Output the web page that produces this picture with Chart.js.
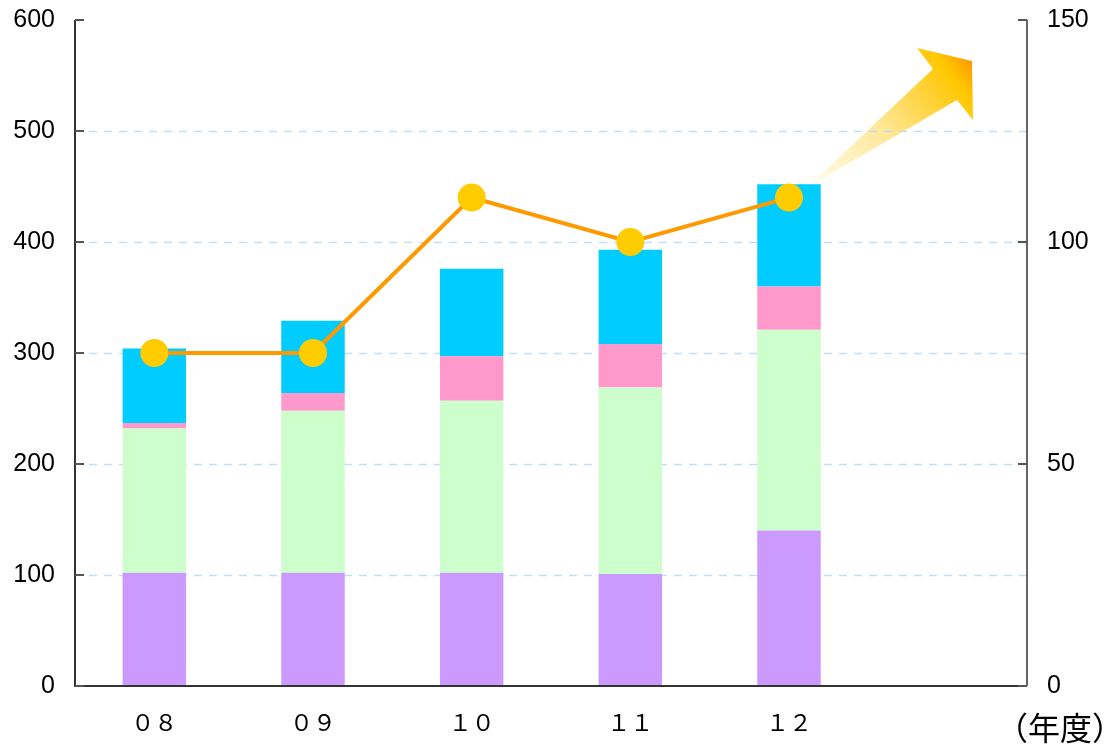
<!DOCTYPE html>
<html><head><meta charset="utf-8">
<script src="https://cdn.jsdelivr.net/npm/chart.js@4.4.1/dist/chart.umd.min.js"></script>
<style>html,body{margin:0;padding:0;background:#fff;}#wrap{width:1109px;height:747px;position:relative;}</style>
</head><body><div id="wrap"><canvas id="c" width="1109" height="747"></canvas></div>
<script>
const categories = ['０８', '０９', '１０', '１１', '１２', ''];
const purpleValues = [102, 102, 102, 101, 140, null];
const greenValues = [130, 146, 155, 168, 181, null];
const pinkValues = [5, 16, 40, 39, 39, null];
const cyanValues = [67, 65, 79, 85, 92, null];
const lineValues = [75, 75, 110, 100, 110, null];
const leftTickValues = [0, 100, 200, 300, 400, 500, 600];
const gridValues = [100, 200, 300, 400, 500];
const rightTickValues = [0, 50, 100, 150];
const unitLabel = '（年度）';

const axisPlugin = {
  id: 'axisPlugin',
  beforeDatasetsDraw(chart) {
    const ctx = chart.ctx, a = chart.chartArea;
    const xs = chart.scales.x, y = chart.scales.y, y1 = chart.scales.y1;
    // decorative rising arrow
    const tx = xs.getPixelForValue(4) + 18, ty = y1.getPixelForValue(110) - 10;
    const R = a.right, T = a.top;
    ctx.save();
    const g = ctx.createLinearGradient(tx, ty, R - 55, T + 41);
    g.addColorStop(0, '#fffff0');
    g.addColorStop(0.45, '#fee89a');
    g.addColorStop(0.75, '#ffd030');
    g.addColorStop(0.88, '#ffc800');
    g.addColorStop(1, '#ff9a00');
    ctx.fillStyle = g;
    ctx.beginPath();
    ctx.moveTo(tx, ty);
    ctx.lineTo(R - 94, T + 49);
    ctx.lineTo(R - 110, T + 28);
    ctx.lineTo(R - 55, T + 41);
    ctx.lineTo(R - 54, T + 100);
    ctx.lineTo(R - 70, T + 80);
    ctx.closePath();
    ctx.fill();
    // dashed grid lines
    ctx.strokeStyle = '#c2ddf5';
    ctx.lineWidth = 1.5;
    ctx.setLineDash([8, 7]);
    ctx.beginPath();
    gridValues.forEach(v => { const p = Math.round(y.getPixelForValue(v)) + 0.5; ctx.moveTo(a.left + 14, p); ctx.lineTo(a.right, p); });
    ctx.stroke();
    ctx.restore();
  },
  afterDatasetsDraw(chart) {
    const ctx = chart.ctx, a = chart.chartArea;
    const y = chart.scales.y, y1 = chart.scales.y1;
    ctx.save();
    ctx.strokeStyle = '#333';
    ctx.lineWidth = 2;
    ctx.beginPath();
    ctx.moveTo(a.left, a.top); ctx.lineTo(a.left, a.bottom + 1);
    ctx.moveTo(a.left, a.bottom); ctx.lineTo(a.right, a.bottom);
    ctx.stroke();
    ctx.lineWidth = 1.5;
    ctx.beginPath();
    ctx.moveTo(a.right, a.top); ctx.lineTo(a.right, a.bottom);
    ctx.stroke();
    ctx.strokeStyle = '#555';
    ctx.lineWidth = 2;
    ctx.beginPath();
    leftTickValues.forEach(v => { const p = Math.round(y.getPixelForValue(v)); ctx.moveTo(a.left, p); ctx.lineTo(a.left + 9, p); });
    rightTickValues.forEach(v => { const p = Math.round(y1.getPixelForValue(v)); ctx.moveTo(a.right - 9, p); ctx.lineTo(a.right, p); });
    ctx.stroke();
    ctx.fillStyle = '#000';
    ctx.font = '32px "Noto Sans CJK JP"';
    ctx.textAlign = 'center';
    ctx.textBaseline = 'middle';
    ctx.fillText(unitLabel, a.right + 33, a.bottom + 42);
    ctx.restore();
  }
};

const tickFont = { family: '"Liberation Sans", Arial, sans-serif', size: 25 };
function fitV(w) { return s => { s.width = w; s.paddingTop = 0; s.paddingBottom = 0; }; }

new Chart(document.getElementById('c'), {
  type: 'bar',
  data: {
    labels: categories,
    datasets: [
      { type: 'line', data: lineValues, yAxisID: 'y1', order: 0, borderColor: '#ff9900', borderWidth: 4,
        pointRadius: 14, pointHoverRadius: 14, pointBackgroundColor: '#ffcc00', pointBorderWidth: 0, tension: 0 },
      { data: purpleValues, backgroundColor: '#cc99ff', stack: 's', order: 1 },
      { data: greenValues, backgroundColor: '#ccffcc', stack: 's', order: 1 },
      { data: pinkValues, backgroundColor: '#ff99cc', stack: 's', order: 1 },
      { data: cyanValues, backgroundColor: '#00ccff', stack: 's', order: 1 }
    ]
  },
  options: {
    responsive: false,
    animation: false,
    devicePixelRatio: 1,
    layout: { padding: { top: 20, left: 0, right: 0, bottom: 0 } },
    datasets: { bar: { barPercentage: 0.4, categoryPercentage: 1.0, borderWidth: 0 } },
    plugins: { legend: { display: false }, tooltip: { enabled: false } },
    scales: {
      x: {
        stacked: true, offset: true,
        grid: { display: false, drawTicks: false },
        border: { display: false },
        ticks: { color: '#000', font: { family: '"Noto Sans CJK JP"', size: 23 }, padding: 22 },
        afterFit(s) { s.height = 61; s.paddingLeft = 0; s.paddingRight = 0; }
      },
      y: {
        stacked: true, position: 'left', min: 0, max: 600,
        grid: { display: false, drawTicks: false },
        border: { display: false },
        ticks: { stepSize: 100, color: '#000', font: tickFont, padding: 20 },
        afterFit: fitV(75)
      },
      y1: {
        position: 'right', min: 0, max: 150,
        grid: { display: false, drawTicks: false },
        border: { display: false },
        ticks: { stepSize: 50, color: '#000', font: tickFont, padding: 20 },
        afterFit: fitV(82)
      }
    }
  },
  plugins: [axisPlugin]
});
</script>
</body></html>
